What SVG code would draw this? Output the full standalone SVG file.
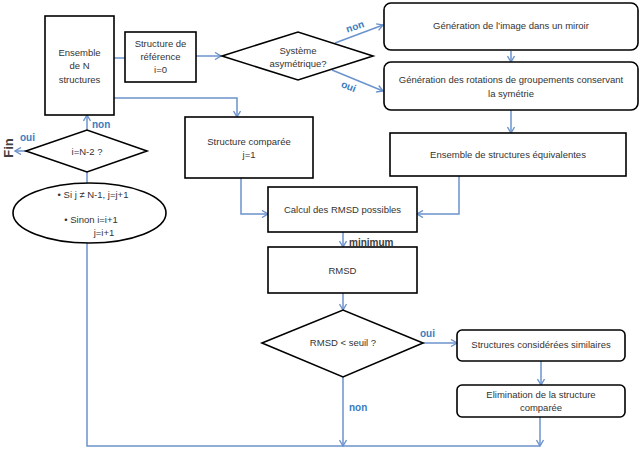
<svg xmlns="http://www.w3.org/2000/svg" width="644" height="452" viewBox="0 0 644 452">
<style>
.box{fill:#fff;stroke:#000;stroke-width:1.6}
.t{font-family:"Liberation Sans",Arial,sans-serif;font-size:9.5px;fill:#333;text-anchor:middle}
.c{fill:none;stroke:#6b93cc;stroke-width:1.5}
.lb{font-family:"Liberation Sans",Arial,sans-serif;font-size:10px;font-weight:bold;fill:#3a7cc0}
.lg{font-family:"Liberation Sans",Arial,sans-serif;font-size:10px;font-weight:bold;fill:#404040}
.fin{font-size:13px;text-anchor:middle}
</style>
<defs>
<marker id="a" markerWidth="8" markerHeight="8" refX="7" refY="4" orient="auto" markerUnits="userSpaceOnUse">
<path d="M1,0.5 L7,4 L1,7.5" fill="none" stroke="#6b93cc" stroke-width="1.4"/>
</marker>
</defs>
<rect width="644" height="452" fill="#fff"/>
<g id="connectors">
<path class="c" d="M114,58 H125"/>
<path class="c" d="M196,56 H221" marker-end="url(#a)"/>
<path class="c" d="M335,43 L383,25" marker-end="url(#a)"/>
<path class="c" d="M332,70 L383,91" marker-end="url(#a)"/>
<path class="c" d="M511,51 V62" marker-end="url(#a)"/>
<path class="c" d="M511,110 V133" marker-end="url(#a)"/>
<path class="c" d="M114,98 H237 V117" marker-end="url(#a)"/>
<path class="c" d="M241,178 V214 H268" marker-end="url(#a)"/>
<path class="c" d="M459,176 V214 H417" marker-end="url(#a)"/>
<path class="c" d="M343,232 V247" marker-end="url(#a)"/>
<path class="c" d="M343,293 V310" marker-end="url(#a)"/>
<path class="c" d="M423,343 H457" marker-end="url(#a)"/>
<path class="c" d="M343,377 V446" marker-end="url(#a)"/>
<path class="c" d="M541,361 V385" marker-end="url(#a)"/>
<path class="c" d="M540,417 V446" marker-end="url(#a)"/>
<path class="c" d="M540,446 H87 V243"/>
<path class="c" d="M87,172 V183"/>
<path class="c" d="M87,130 V115" marker-end="url(#a)"/>
<path class="c" d="M26,151 H15" marker-end="url(#a)"/>
<text class="lb" x="346" y="30" transform="rotate(-18 355 27)">non</text>
<text class="lb" x="341" y="90" transform="rotate(22 349 87)">oui</text>
<text class="lb" x="92" y="128">non</text>
<text class="lb" x="20" y="141">oui</text>
<text class="lg fin" x="0" y="0" transform="translate(13,148) rotate(-90)">Fin</text>
<text class="lg" x="349" y="246">minimum</text>
<text class="lb" x="420" y="337">oui</text>
<text class="lb" x="349" y="411">non</text>
</g>
<g id="ensemble">
<rect class="box" x="45" y="16" width="69" height="99"/>
<text class="t" x="79.5" y="56">Ensemble</text>
<text class="t" x="79.5" y="69">de N</text>
<text class="t" x="79.5" y="83">structures</text>
</g>
<g id="reference">
<rect class="box" x="125" y="32" width="71" height="50"/>
<text class="t" x="160.5" y="47">Structure de</text>
<text class="t" x="160.5" y="60">référence</text>
<text class="t" x="160.5" y="73">i=0</text>
</g>
<g id="asym">
<polygon class="box" points="222,56 298,32 373,56 298,80"/>
<text class="t" x="298" y="54">Système</text>
<text class="t" x="298" y="67">asymétrique?</text>
</g>
<g id="miroir">
<rect class="box" x="384" y="3" width="254" height="47" rx="7"/>
<text class="t" x="511" y="29">Génération de l’image dans un miroir</text>
</g>
<g id="rotations">
<rect class="box" x="384" y="62" width="254" height="48" rx="7"/>
<text class="t" x="511" y="83">Génération des rotations de groupements conservant</text>
<text class="t" x="511" y="97">la symétrie</text>
</g>
<g id="equivalentes">
<rect class="box" x="390" y="133" width="236" height="43"/>
<text class="t" x="508" y="158">Ensemble de structures équivalentes</text>
</g>
<g id="comparee">
<rect class="box" x="185" y="117" width="128" height="61"/>
<text class="t" x="249" y="145">Structure comparée</text>
<text class="t" x="249" y="158">j=1</text>
</g>
<g id="calcul">
<rect class="box" x="268" y="187" width="149" height="45"/>
<text class="t" x="342.5" y="213">Calcul des RMSD possibles</text>
</g>
<g id="rmsd">
<rect class="box" x="268" y="247" width="149" height="46"/>
<text class="t" x="342.5" y="274">RMSD</text>
</g>
<g id="seuil">
<polygon class="box" points="262,343 343,310 423,343 343,377"/>
<text class="t" x="343" y="346">RMSD &lt; seuil ?</text>
</g>
<g id="similaires">
<rect class="box" x="457" y="330" width="168" height="31" rx="5"/>
<text class="t" x="541" y="348">Structures considérées  similaires</text>
</g>
<g id="elimination">
<rect class="box" x="457" y="385" width="168" height="32" rx="5"/>
<text class="t" x="541" y="398">Elimination de la structure</text>
<text class="t" x="541" y="411">comparée</text>
</g>
<g id="test">
<polygon class="box" points="26,151 87,130 147,151 87,172"/>
<text class="t" x="87" y="155">i=N-2 ?</text>
</g>
<g id="increment">
<ellipse class="box" cx="89.5" cy="213" rx="76.5" ry="30"/>
<text class="t" x="93" y="198">• Si j ≠ N-1, j=j+1</text>
<text class="t" x="91" y="223">• Sinon i=i+1</text>
<text class="t" x="104" y="236">j=i+1</text>
</g>
</svg>
